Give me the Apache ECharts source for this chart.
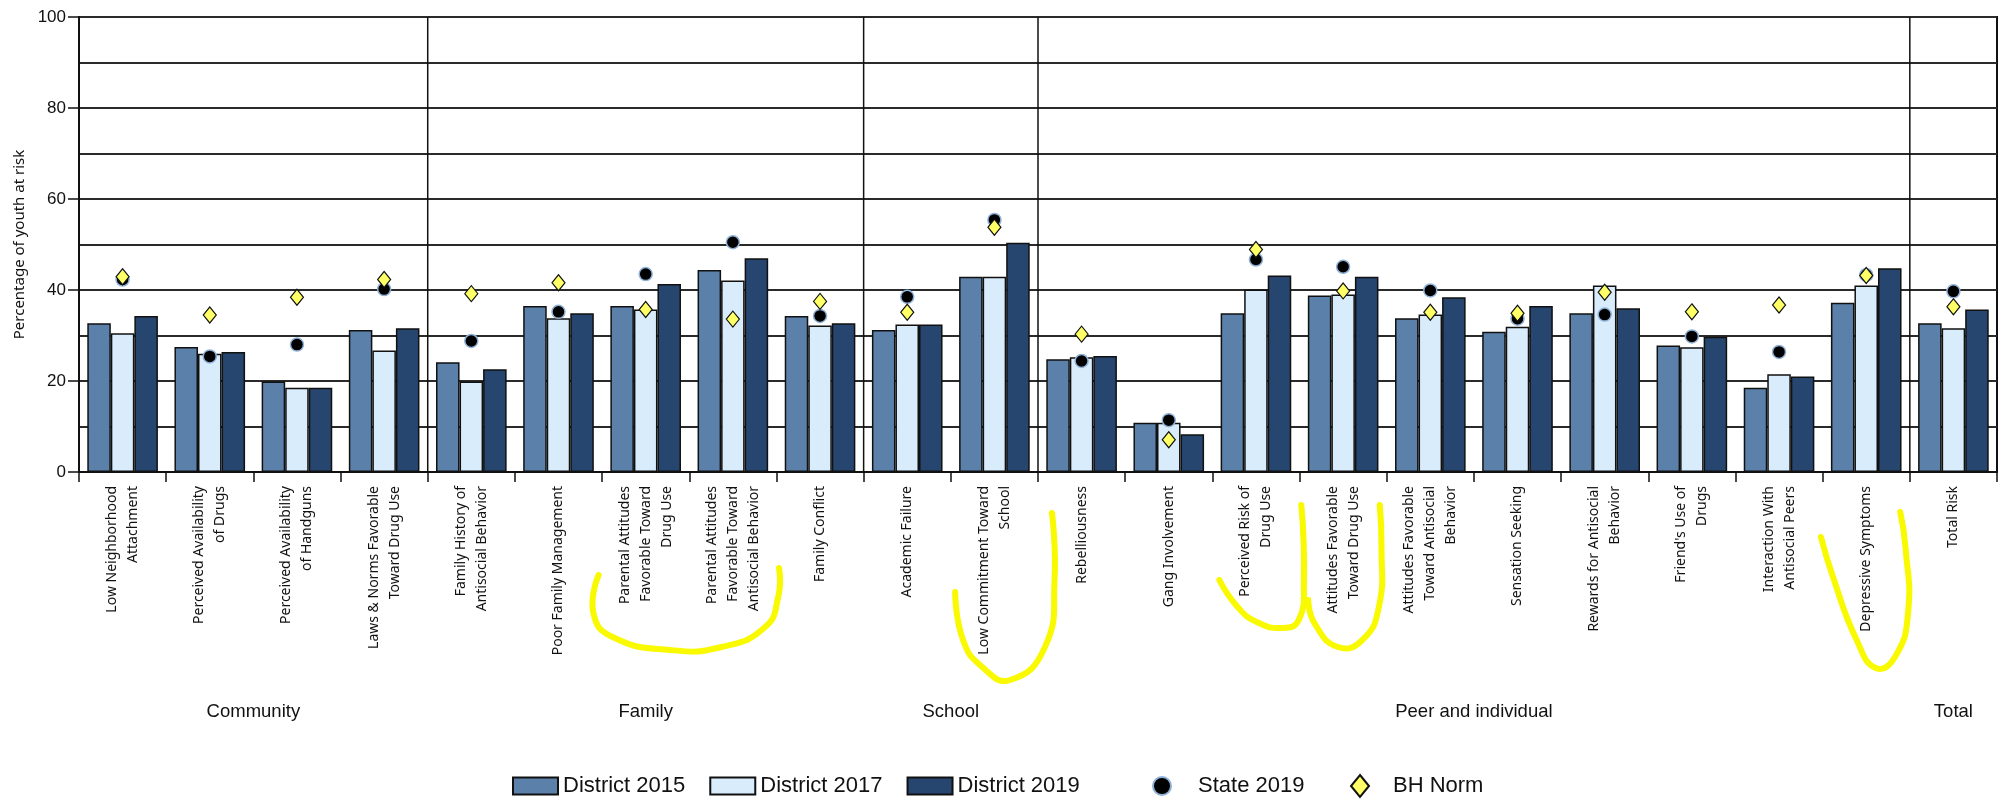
<!DOCTYPE html>
<html>
<head>
<meta charset="utf-8">
<script src="https://cdn.jsdelivr.net/npm/echarts@6/dist/echarts.min.js"></script>
<style>
  html, body { margin: 0; padding: 0; background: #ffffff; }
  #chart { width: 2005px; height: 801px; }
</style>
</head>
<body>
<div id="chart"></div>
<script>
// Risk factor scales, grouped by domain
const categories = [
  'Low Neighborhood\nAttachment',
  'Perceived Availability\nof Drugs',
  'Perceived Availability\nof Handguns',
  'Laws & Norms Favorable\nToward Drug Use',
  'Family History of\nAntisocial Behavior',
  'Poor Family Management',
  'Parental Attitudes\nFavorable Toward\nDrug Use',
  'Parental Attitudes\nFavorable Toward\nAntisocial Behavior',
  'Family Conflict',
  'Academic Failure',
  'Low Commitment Toward\nSchool',
  'Rebelliousness',
  'Gang Involvement',
  'Perceived Risk of\nDrug Use',
  'Attitudes Favorable\nToward Drug Use',
  'Attitudes Favorable\nToward Antisocial\nBehavior',
  'Sensation Seeking',
  'Rewards for Antisocial\nBehavior',
  "Friend's Use of\nDrugs",
  'Interaction With\nAntisocial Peers',
  'Depressive Symptoms',
  'Total Risk'
];
const domains = ['Community', 'Family', 'School', 'Peer and individual', 'Total'];
const domainSizes = [4, 5, 2, 10, 1];

// Percentage of youth at risk
const district2015 = [32.7, 27.5, 19.9, 31.2, 24.1, 36.5, 36.5, 44.4, 34.3, 31.2, 42.9, 24.8, 10.8, 34.9, 38.8, 33.8, 30.8, 34.9, 27.8, 18.5, 37.2, 32.7];
const district2017 = [30.5, 26.0, 18.5, 26.7, 19.9, 33.8, 35.7, 42.1, 32.2, 32.4, 42.9, 25.2, 10.8, 40.1, 39.0, 34.6, 31.9, 41.0, 27.4, 21.5, 41.0, 31.6];
const district2019 = [34.3, 26.4, 18.5, 31.6, 22.6, 34.9, 41.3, 47.0, 32.7, 32.4, 50.4, 25.5, 8.3, 43.2, 42.9, 38.4, 36.5, 36.0, 29.7, 21.0, 44.8, 35.7];
const state2019 = [42.3, 25.4, 28.0, 40.2, 28.8, 35.2, 43.5, 50.5, 34.3, 38.5, 55.4, 24.4, 11.4, 46.7, 45.1, 39.9, 33.7, 34.6, 29.8, 26.4, 43.3, 39.7];
const bhNorm = [42.9, 34.5, 38.4, 42.3, 39.2, 41.6, 35.7, 33.6, 37.5, 35.1, 53.8, 30.3, 7.1, 48.9, 39.8, 35.1, 34.9, 39.5, 35.2, 36.7, 43.2, 36.3];

const yMin = 0, yMax = 100, yLabelStep = 20, yGridStep = 10;

const INK = '#111111';
const chart = echarts.init(document.getElementById('chart'), null, { renderer: 'canvas' });

const barStyle = (color) => ({ color: color, borderColor: INK, borderWidth: 1.5 });
const legendText = { fontFamily: '"Liberation Sans", Arial, sans-serif', fontSize: 22, color: INK, lineHeight: 26 };

chart.setOption({
  animation: false,
  backgroundColor: '#ffffff',
  grid: {
    left: 79, right: 8, top: 17, bottom: 329,
    show: true, borderColor: INK, borderWidth: 2, backgroundColor: 'transparent'
  },
  legend: [
    {
      data: ['District 2015', 'District 2017', 'District 2019'],
      left: 507, top: 768, orient: 'horizontal',
      icon: 'rect', itemWidth: 45, itemHeight: 17, itemGap: 24,
      textStyle: legendText
    },
    {
      data: [{ name: 'State 2019', icon: 'circle' }],
      left: 1147, top: 768,
      itemWidth: 62, itemHeight: 18,
      textStyle: legendText
    },
    {
      data: [{ name: 'BH Norm', icon: 'path://M9,0L18,11L9,22L0,11Z' }],
      left: 1345, top: 768,
      itemWidth: 56, itemHeight: 22, symbolKeepAspect: true,
      textStyle: legendText
    }
  ],
  xAxis: {
    type: 'category',
    data: categories,
    boundaryGap: true,
    axisLine: { show: true, lineStyle: { color: INK, width: 2 } },
    axisTick: { show: true, interval: 0, length: 10, lineStyle: { color: INK, width: 1.5 } },
    axisLabel: {
      interval: 0, rotate: 90, margin: 14,
      fontFamily: '"Noto Sans", sans-serif', fontSize: 14, lineHeight: 21, color: INK
    },
    splitLine: { show: false }
  },
  yAxis: [
    {
      type: 'value', min: yMin, max: yMax, interval: yLabelStep,
      name: 'Percentage of youth at risk',
      nameLocation: 'middle', nameGap: 50,
      nameTextStyle: { fontFamily: '"Noto Sans", sans-serif', fontSize: 15, color: INK },
      axisLine: { show: true, lineStyle: { color: INK, width: 2 } },
      axisTick: { show: true, length: 11, lineStyle: { color: INK, width: 1.5 } },
      axisLabel: { fontFamily: '"Liberation Sans Narrow", "Liberation Sans", sans-serif', fontSize: 17, color: INK, margin: 13 },
      splitLine: { show: false }
    },
    {
      type: 'value', min: yMin, max: yMax, interval: yGridStep,
      position: 'left',
      axisLine: { show: false }, axisTick: { show: false }, axisLabel: { show: false },
      splitLine: { show: true, lineStyle: { color: '#2a2a2a', width: 2 } }
    }
  ],
  series: [
    { name: 'District 2015', type: 'bar', data: district2015, barGap: '0%', barCategoryGap: '19%', itemStyle: barStyle('#5b80aa') },
    { name: 'District 2017', type: 'bar', data: district2017, barGap: '0%', barCategoryGap: '19%', itemStyle: barStyle('#d9ecfc') },
    { name: 'District 2019', type: 'bar', data: district2019, barGap: '0%', barCategoryGap: '19%', itemStyle: barStyle('#26456f') },
    {
      name: 'State 2019', type: 'scatter', data: state2019, z: 5,
      symbol: 'circle', symbolSize: 13,
      itemStyle: { color: '#000000', borderColor: '#8fb1d6', borderWidth: 1.5, opacity: 1 }
    },
    {
      name: 'BH Norm', type: 'scatter', data: bhNorm, z: 6,
      symbol: 'diamond', symbolSize: [13, 16],
      itemStyle: { color: '#ffff66', borderColor: INK, borderWidth: 1.2, opacity: 1 }
    }
  ]
});

// Domain separators, domain captions and highlighter strokes, placed from the category scale
function decorate() {
  const cx = (i) => chart.convertToPixel({ xAxisIndex: 0 }, i);
  const step = cx(1) - cx(0);
  const top = chart.convertToPixel({ yAxisIndex: 0 }, yMax);
  const bottom = chart.convertToPixel({ yAxisIndex: 0 }, yMin);
  const elements = [];

  let start = 0;
  domainSizes.forEach((size, g) => {
    const end = start + size;
    const left = cx(start) - step / 2;
    const right = cx(end - 1) + step / 2;
    if (end < categories.length) {
      elements.push({
        type: 'line', z: 4, silent: true,
        shape: { x1: right, y1: top, x2: right, y2: bottom },
        style: { stroke: INK, lineWidth: 1.5 }
      });
    }
    elements.push({
      type: 'text', z: 4, silent: true,
      x: (left + right) / 2, y: 712,
      style: {
        text: domains[g], align: 'center', verticalAlign: 'middle',
        font: '18.5px "Liberation Sans Narrow", "Liberation Sans", sans-serif', fill: INK
      }
    });
    start = end;
  });

  // Hand-drawn yellow highlights under selected scale names:
  // each point is [offset from category centre in category widths, pixel row]
  const strokes = [
    { at: 6, pts: [[-0.54, 575], [-0.60, 613], [-0.38, 637], [0.28, 650], [0.87, 647], [1.37, 627], [1.52, 597], [1.53, 568]] },
    { at: 10, pts: [[-0.45, 592], [-0.36, 640], [-0.14, 667], [0.18, 680], [0.58, 647], [0.69, 580], [0.66, 513]] },
    { at: 13, pts: [[-0.42, 580], [-0.21, 607], [0.01, 622], [0.30, 628], [0.49, 620], [0.55, 580], [0.52, 505]] },
    { at: 14, pts: [[-0.40, 600], [-0.33, 623], [-0.06, 647], [0.22, 640], [0.41, 607], [0.44, 547], [0.42, 505]] },
    { at: 20, pts: [[-0.52, 537], [-0.37, 580], [-0.11, 640], [0.11, 668], [0.33, 657], [0.48, 613], [0.45, 547], [0.39, 512]] }
  ];
  strokes.forEach((s) => {
    const c = cx(s.at);
    elements.push({
      type: 'polyline', z: 10, silent: true,
      shape: { points: s.pts.map(([dx, y]) => [c + dx * step, y]), smooth: 0.5 },
      style: { stroke: '#f9f900', lineWidth: 6, lineCap: 'round', lineJoin: 'round', fill: null }
    });
  });

  chart.setOption({ graphic: { elements: elements } });
}
decorate();
</script>
</body>
</html>
